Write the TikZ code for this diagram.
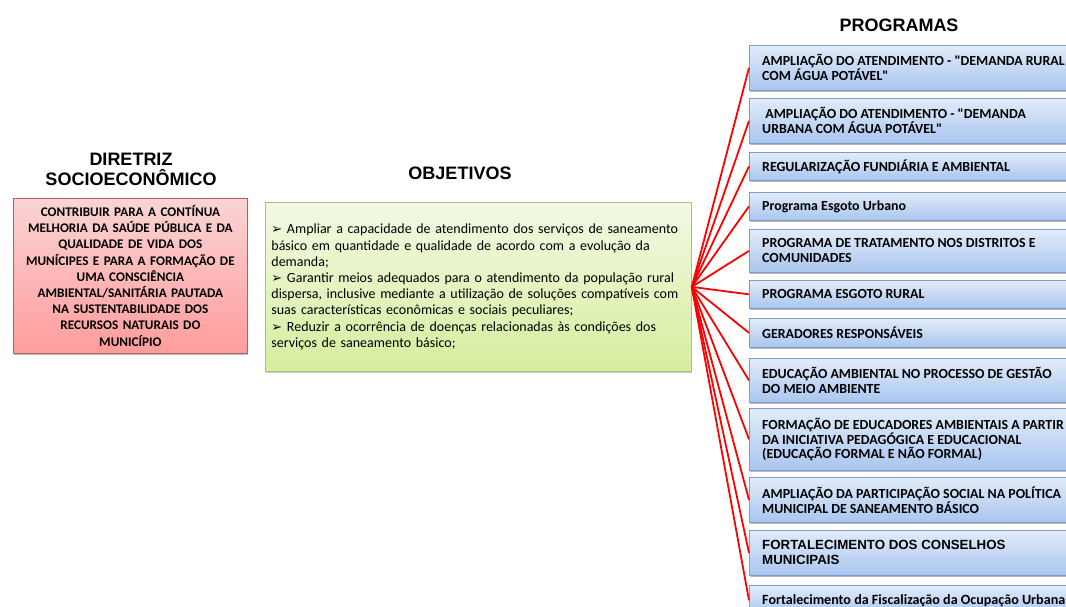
\documentclass[tikz,border=0pt]{standalone}
\usepackage{fontspec}
\setmainfont{Carlito}
\newfontfamily\arialfont{Liberation Sans}
\newfontfamily\dejavu{DejaVu Sans}
\newfontfamily\carlitoplain{Carlito}[Ligatures=ResetAll]
\usetikzlibrary{shadows}
\definecolor{pinktop}{HTML}{FAD4D4}
\definecolor{pinkbot}{HTML}{FF9C9C}
\definecolor{pinkborder}{HTML}{B06060}
\definecolor{greentop}{HTML}{F3F9E4}
\definecolor{greenbot}{HTML}{D5EE9E}
\definecolor{greenborder}{HTML}{A9BF86}
\definecolor{bluetop}{HTML}{E2ECFA}
\definecolor{bluebot}{HTML}{A9C5EF}
\definecolor{blueborder}{HTML}{7E9CC6}
\newcommand{\arrowbullet}{{\dejavu\fontsize{13}{13}\selectfont ➢}}
\newcommand{\sq}{{\carlitoplain\bfseries "}}
\begin{document}
\begin{tikzpicture}[x=1pt,y=-1pt,
  title/.style={font=\arialfont\bfseries\fontsize{18}{20}\selectfont, align=center, inner sep=0pt},
  prog/.style={draw=blueborder, line width=0.7pt, top color=bluetop, bottom color=bluebot,
    minimum width=319pt, inner sep=0pt, anchor=north west,
    drop shadow={shadow xshift=0.6pt, shadow yshift=-2pt, opacity=0.45, fill=black!60}},
  progtext/.style={anchor=west, align=left, inner sep=0pt, font=\bfseries\fontsize{13.9}{15}\selectfont},
  link/.style={draw=red, line width=1.8pt}
]
\useasboundingbox (0,0) rectangle (1066,607);

% titles
\node[title] (tdir) at (131,169) {DIRETRIZ\\SOCIOECONÔMICO};
\node[title] (tobj) at (460,173) {OBJETIVOS};
\node[title] (tprog) at (899,25) {PROGRAMAS};

% diretriz box
\node[draw=pinkborder, line width=0.8pt, top color=pinktop, bottom color=pinkbot,
  minimum width=234pt, minimum height=155pt, text width=226pt, inner xsep=4pt,
  anchor=north west, align=center, font=\bfseries\fontsize{13.2}{16.2}\selectfont,
  drop shadow={shadow xshift=0.6pt, shadow yshift=-2pt, opacity=0.4, fill=black!60}]
  (dir) at (13,198) {CONTRIBUIR PARA A CONTÍNUA\\MELHORIA DA SAÚDE PÚBLICA E DA\\QUALIDADE DE VIDA DOS\\MUNÍCIPES E PARA A FORMAÇÃO DE\\UMA CONSCIÊNCIA\\AMBIENTAL/SANITÁRIA PAUTADA\\NA SUSTENTABILIDADE DOS\\RECURSOS NATURAIS DO\\MUNICÍPIO};

% objetivos box
\node[draw=greenborder, line width=0.8pt, top color=greentop, bottom color=greenbot,
  minimum width=426pt, minimum height=169pt, text width=414pt, inner xsep=6pt,
  anchor=north west, align=left, font=\fontsize{14}{16.2}\selectfont,
  drop shadow={shadow xshift=0.6pt, shadow yshift=-2pt, opacity=0.35, fill=black!60}]
  (obj) at (265,202) {\arrowbullet{} Ampliar a capacidade de atendimento dos serviços de saneamento\\básico em quantidade e qualidade de acordo com a evolução da\\demanda;\\\arrowbullet{} Garantir meios adequados para o atendimento da população rural\\dispersa, inclusive mediante a utilização de soluções compatíveis com\\suas características econômicas e sociais peculiares;\\\arrowbullet{} Reduzir a ocorrência de doenças relacionadas às condições dos\\serviços de saneamento básico;};

% programas (boxes)
\node[prog, minimum height=45pt] (p1) at (749,45) {};
\node[prog, minimum height=45pt] (p2) at (749,98) {};
\node[prog, minimum height=28pt] (p3) at (749,152) {};
\node[prog, minimum height=28pt] (p4) at (749,192) {};
\node[prog, minimum height=43pt] (p5) at (749,229) {};
\node[prog, minimum height=28pt] (p6) at (749,280) {};
\node[prog, minimum height=29pt] (p7) at (749,318) {};
\node[prog, minimum height=44pt] (p8) at (749,358) {};
\node[prog, minimum height=62pt] (p9) at (749,408) {};
\node[prog, minimum height=45pt] (p10) at (749,477) {};
\node[prog, minimum height=45pt] (p11) at (749,530) {};
\node[prog, minimum height=30pt] (p12) at (749,585) {};

% programas (texts)
\node[progtext] (t1) at ([xshift=13pt]p1.west) {AMPLIAÇÃO DO ATENDIMENTO - \sq DEMANDA RURAL\\COM ÁGUA POTÁVEL\sq};
\node[progtext] (t2) at ([xshift=13pt]p2.west) {\ AMPLIAÇÃO DO ATENDIMENTO - \sq DEMANDA\\URBANA COM ÁGUA POTÁVEL\sq};
\node[progtext] (t3) at ([xshift=13pt]p3.west) {REGULARIZAÇÃO FUNDIÁRIA E AMBIENTAL};
\node[progtext] (t4) at ([xshift=13pt]p4.west) {Programa Esgoto Urbano};
\node[progtext] (t5) at ([xshift=13pt]p5.west) {PROGRAMA DE TRATAMENTO NOS DISTRITOS E\\COMUNIDADES};
\node[progtext] (t6) at ([xshift=13pt]p6.west) {PROGRAMA ESGOTO RURAL};
\node[progtext] (t7) at ([xshift=13pt]p7.west) {GERADORES RESPONSÁVEIS};
\node[progtext] (t8) at ([xshift=13pt]p8.west) {EDUCAÇÃO AMBIENTAL NO PROCESSO DE GESTÃO\\DO MEIO AMBIENTE};
\node[progtext, font=\bfseries\fontsize{13.9}{14}\selectfont] (t9) at ([xshift=13pt]p9.west) {FORMAÇÃO DE EDUCADORES AMBIENTAIS A PARTIR\\DA INICIATIVA PEDAGÓGICA E EDUCACIONAL\\(EDUCAÇÃO FORMAL E NÃO FORMAL)};
\node[progtext] (t10) at ([xshift=13pt]p10.west) {AMPLIAÇÃO DA PARTICIPAÇÃO SOCIAL NA POLÍTICA\\MUNICIPAL DE SANEAMENTO BÁSICO};
\node[progtext, font=\arialfont\bfseries\fontsize{13.3}{15}\selectfont] (t11) at ([xshift=13pt]p11.west) {FORTALECIMENTO DOS CONSELHOS\\MUNICIPAIS};
\node[progtext, font=\bfseries\fontsize{14.1}{15}\selectfont] (t12) at ([xshift=13pt]p12.west) {Fortalecimento da Fiscalização da Ocupação Urbana};

% links
\foreach \i in {1,...,12}{
  \draw[link] (obj.east) -- (p\i.west);
}
\end{tikzpicture}
\end{document}
